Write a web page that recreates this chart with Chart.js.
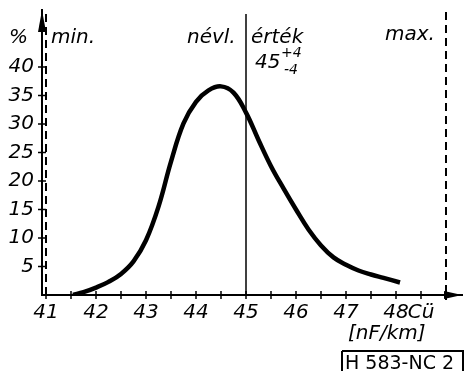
<!DOCTYPE html>
<html>
<head>
<meta charset="utf-8">
<script src="https://cdn.jsdelivr.net/npm/chart.js@4.4.1/dist/chart.umd.min.js"></script>
<style>
  body { margin: 0; background: #fff; }
  canvas { display: block; }
</style>
</head>
<body>
<canvas id="chart" width="464" height="371"></canvas>
<script>
// capacitance distribution (Cü, nF/km) vs. frequency (%)
var curveX = [41.54, 41.75, 42.0, 42.25, 42.5, 42.75, 43.0, 43.25, 43.5, 43.75, 44.0, 44.25, 44.5, 44.75, 45.0,
  45.25, 45.5, 45.75, 46.0, 46.25, 46.5, 46.75, 47.0, 47.25, 47.5, 47.75, 48.08];
var curvePct = [0, 0.5, 1.3, 2.3, 3.7, 5.9, 9.6, 15.5, 23.4, 30.1, 33.9, 35.9, 36.6, 35.5, 32.0,
  27.2, 22.6, 18.7, 15.0, 11.5, 8.7, 6.6, 5.3, 4.3, 3.6, 3.0, 2.2];

var xTickValues = [41, 42, 43, 44, 45, 46, 47, 48, 48.5];
var xTickLabels = ["41", "42", "43", "44", "45", "46", "47", "48", "Cü"];
var xMinorTicks = [41, 41.5, 42, 42.5, 43, 43.5, 44, 44.5, 45, 45.5, 46, 46.5, 47, 47.5, 48, 48.5];
var yTickValues = [5, 10, 15, 20, 25, 30, 35, 40];

var limitMin = 41, limitNominal = 45, limitMax = 49;

var points = curveX.map(function (x, i) { return { x: x, y: curvePct[i] }; });
var italic = { family: "DejaVu Sans", size: 20, style: "italic" };

var drawing = {
  id: "drawing",
  afterDraw: function (chart) {
    var ctx = chart.ctx;
    var xs = chart.scales.x, ys = chart.scales.y;
    var area = chart.chartArea;
    ctx.save();
    ctx.strokeStyle = "#000";
    ctx.fillStyle = "#000";

    // tick marks crossing the axes
    ctx.lineWidth = 1.5;
    yTickValues.forEach(function (v) {
      var y = ys.getPixelForValue(v);
      ctx.beginPath(); ctx.moveTo(area.left - 4, y); ctx.lineTo(area.left + 4, y); ctx.stroke();
    });
    xMinorTicks.forEach(function (v) {
      var x = xs.getPixelForValue(v);
      ctx.beginPath(); ctx.moveTo(x, area.bottom - 4); ctx.lineTo(x, area.bottom + 4); ctx.stroke();
    });

    // arrows
    ctx.beginPath();
    ctx.moveTo(area.left, area.top);
    ctx.lineTo(area.left - 4, area.top + 22);
    ctx.lineTo(area.left + 4, area.top + 22);
    ctx.closePath(); ctx.fill();
    ctx.beginPath();
    ctx.moveTo(area.right, area.bottom);
    ctx.lineTo(area.right - 18, area.bottom - 4);
    ctx.lineTo(area.right - 18, area.bottom + 4);
    ctx.closePath(); ctx.fill();

    // limit lines
    ctx.lineWidth = 2;
    ctx.setLineDash([8, 5]);
    var xm = xs.getPixelForValue(limitMin);
    ctx.beginPath(); ctx.moveTo(xm, 14); ctx.lineTo(xm, area.bottom); ctx.stroke();
    var xM = xs.getPixelForValue(limitMax);
    ctx.beginPath(); ctx.moveTo(xM, 12); ctx.lineTo(xM, area.bottom + 5); ctx.stroke();
    ctx.setLineDash([]);
    ctx.lineWidth = 1.5;
    var xn = xs.getPixelForValue(limitNominal);
    ctx.beginPath(); ctx.moveTo(xn, 14); ctx.lineTo(xn, area.bottom); ctx.stroke();

    // texts
    ctx.textBaseline = "alphabetic";
    ctx.textAlign = "left";
    ctx.font = "italic 20px 'DejaVu Sans'";
    ctx.fillText("%", 9, 43);
    ctx.fillText("min.", 51, 43);
    ctx.fillText("névl.", 187, 43);
    ctx.fillText("érték", 251, 43);
    ctx.fillText("max.", 385, 40);
    ctx.fillText("45", 255, 68);
    ctx.fillText("[nF/km]", 348, 339);
    ctx.font = "italic 14px 'DejaVu Sans'";
    ctx.fillText("+4", 281, 57);
    ctx.fillText("-4", 284, 74);

    ctx.font = "19px 'DejaVu Sans'";
    ctx.fillText("H 583-NC 2", 345, 369);
    ctx.lineWidth = 2;
    ctx.beginPath();
    ctx.moveTo(342, 351); ctx.lineTo(463, 351); ctx.lineTo(463, 371);
    ctx.moveTo(342, 351); ctx.lineTo(342, 371);
    ctx.stroke();
    ctx.restore();
  }
};

function noScalePadding(axis) {
  axis.paddingTop = 0;
  axis.paddingBottom = 0;
  axis.paddingLeft = 0;
  axis.paddingRight = 0;
}

new Chart(document.getElementById("chart"), {
  type: "line",
  data: {
    datasets: [{
      data: points,
      borderColor: "#000",
      borderWidth: 4.5,
      pointRadius: 0,
      fill: false,
      tension: 0.4
    }]
  },
  options: {
    responsive: false,
    animation: false,
    layout: { padding: { top: 10, right: 2, left: 0, bottom: 0 } },
    plugins: { legend: { display: false }, tooltip: { enabled: false } },
    scales: {
      x: {
        type: "linear",
        min: 40.92,
        max: 49.32,
        afterBuildTicks: function (axis) {
          axis.ticks = xTickValues.map(function (v) { return { value: v }; });
        },
        afterFit: function (axis) { axis.height = 76; noScalePadding(axis); },
        ticks: {
          autoSkip: false,
          maxRotation: 0,
          color: "#000",
          font: italic,
          padding: 6,
          callback: function (v) {
            var i = xTickValues.indexOf(v);
            return i >= 0 ? xTickLabels[i] : "";
          }
        },
        grid: { display: false, drawTicks: false },
        border: { display: true, color: "#000", width: 2 }
      },
      y: {
        min: 0,
        max: 50,
        afterBuildTicks: function (axis) {
          axis.ticks = yTickValues.map(function (v) { return { value: v }; });
        },
        afterFit: function (axis) { axis.width = 42; noScalePadding(axis); },
        ticks: { color: "#000", font: italic, padding: 8 },
        grid: { display: false, drawTicks: false },
        border: { display: true, color: "#000", width: 2 }
      }
    }
  },
  plugins: [drawing]
});
</script>
</body>
</html>
